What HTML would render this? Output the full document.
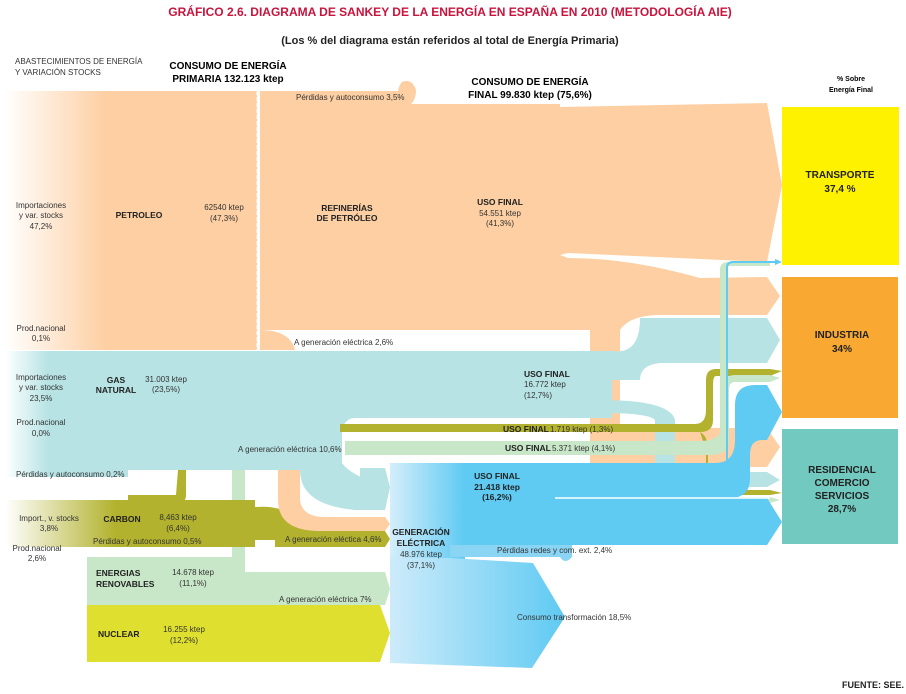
<!DOCTYPE html>
<html><head><meta charset="utf-8"><style>
body{margin:0;background:#fff}
svg{display:block;font-family:"Liberation Sans",sans-serif}
.t{font-size:8px;fill:#333}
.b{font-size:8.5px;font-weight:bold;fill:#222}
</style></head><body>
<svg width="906" height="694" viewBox="0 0 906 694">
<defs>
<linearGradient id="gp" x1="0" x2="1"><stop offset="0" stop-color="#fff"/><stop offset="0.4" stop-color="#fdcfa3"/></linearGradient>
<linearGradient id="gg" x1="0" x2="1"><stop offset="0" stop-color="#fff"/><stop offset="0.35" stop-color="#b7e3e4"/></linearGradient>
<linearGradient id="gc" x1="0" x2="1"><stop offset="0" stop-color="#fff"/><stop offset="0.9" stop-color="#b2b22e"/></linearGradient>
<linearGradient id="ge" x1="0" x2="1"><stop offset="0" stop-color="#d4eefb"/><stop offset="1" stop-color="#5fcaf2"/></linearGradient>
<linearGradient id="gt" x1="0" x2="1"><stop offset="0" stop-color="#cdebfa"/><stop offset="1" stop-color="#5fcaf2"/></linearGradient>
</defs>
<text x="450" y="16" text-anchor="middle" style="font-size:12px;font-weight:bold;fill:#c8143c">GRÁFICO 2.6.  DIAGRAMA DE SANKEY DE LA ENERGÍA EN ESPAÑA EN 2010 (METODOLOGÍA AIE)</text>
<text x="450" y="44" text-anchor="middle" style="font-size:11px;font-weight:bold;fill:#222">(Los % del diagrama están referidos al total de Energía Primaria)</text>
<text x="15" y="64" class="t">ABASTECIMIENTOS DE ENERGÍA</text>
<text x="15" y="75" class="t">Y  VARIACIÓN STOCKS</text>
<text x="228" y="69" text-anchor="middle" style="font-size:10px;font-weight:bold">CONSUMO DE ENERGÍA</text>
<text x="228" y="82" text-anchor="middle" style="font-size:10px;font-weight:bold">PRIMARIA 132.123 ktep</text>
<text x="530" y="85" text-anchor="middle" style="font-size:10px;font-weight:bold">CONSUMO DE ENERGÍA</text>
<text x="530" y="98" text-anchor="middle" style="font-size:10px;font-weight:bold">FINAL 99.830 ktep (75,6%)</text>
<text x="851" y="81" text-anchor="middle" style="font-size:7px;font-weight:bold">% Sobre</text>
<text x="851" y="92" text-anchor="middle" style="font-size:7px;font-weight:bold">Energía Final</text>

<!-- petroleum -->
<rect x="5" y="91" width="252" height="259" fill="url(#gp)"/>
<rect x="260" y="104" width="300" height="226" fill="#fdcfa3"/>
<rect x="260" y="91" width="140" height="20" fill="#fdcfa3"/>
<path d="M400 105 Q395 90 402 82 Q412 78 416 90 Q416 100 410 105 Z" fill="#fdcfa3"/>
<path d="M560 107 L767 103 L782 185 L767 262 L568 253 L560 255 Z" fill="#fdcfa3"/>
<path d="M560 255 L568 258 Q630 258 700 278 L767 277 L780 296 L767 315 L660 315 Q630 315 620 330 L620 470 L590 470 L590 330 L560 330 Z" fill="#fdcfa3"/>
<path d="M590 420 Q600 428 640 428 L767 428 L780 447 L767 467 L640 467 Q595 467 590 440 Z" fill="#fdcfa3"/>
<path d="M260 330 Q290 330 295 350 L260 350 Z" fill="#fdcfa3"/>
<line x1="258" y1="91" x2="258" y2="352" stroke="#fff" stroke-width="3" stroke-dasharray="4,2"/>
<!-- gas -->
<rect x="5" y="351" width="123" height="126" fill="url(#gg)"/>
<path d="M128 351 L612 351 L612 418 L355 418 Q345 418 342 430 L342 463 Q350 475 385 487 L390 487 L385 510 L355 510 Q300 505 300 470 L128 470 Z" fill="#b7e3e4"/>
<path d="M612 351 Q640 355 640 318 L767 318 L780 340 L767 363 L660 363 Q640 365 640 380 L612 380 Z" fill="#b7e3e4"/>
<path d="M600 400 Q670 400 675 420 L675 465 L655 465 L655 420 Q650 413 600 413 Z" fill="#b7e3e4"/>
<path d="M700 472 L767 472 L780 480 L767 487 L700 487 Z" fill="#b7e3e4"/>
<path d="M385 468 L390 487 L385 510 L360 510 L360 468 Z" fill="#b7e3e4"/>
<!-- olive line -->
<path d="M340 424 L695 424 Q706 424 706 410 L706 380 Q706 369 716 369 L770 369 L782 371 L770 376 L716 376 Q713 376 713 385 L713 420 Q713 432 700 432 L340 432 Z" fill="#b2b22e"/>
<path d="M700 432 Q708 436 708 450 L708 490 L770 490 L782 493 L770 495 L706 495 L706 450 Z" fill="#b2b22e"/>
<!-- light green -->
<path d="M345 441 L700 441 Q722 441 722 425 L722 390 Q722 375 735 375 L770 375 L780 378 L770 382 L735 382 Q729 382 729 390 L729 440 Q729 455 710 455 L345 455 Z" fill="#c8e6c8"/>
<path d="M720 445 L720 270 Q720 262 728 262 L770 262 L770 266 L728 266 L728 445 Z" fill="#c8e6c8"/>
<path d="M700 497 L770 497 L780 500 L770 503 L700 503 Z" fill="#c8e6c8"/>
<rect x="232" y="470" width="13" height="100" fill="#c8e6c8"/>
<!-- carbon -->
<rect x="5" y="500" width="123" height="47" fill="url(#gc)"/>
<rect x="128" y="500" width="127" height="47" fill="#b2b22e"/>
<path d="M178 470 L186 470 L186 495 Q186 503 178 503 L128 503 L128 495 L176 495 Z" fill="#b2b22e"/>
<path d="M255 507 Q285 505 295 520 Q300 530 320 531 L385 531 L390 539 L385 547 L275 547 L275 540 L255 540 Z" fill="#b2b22e"/>
<!-- peach to elec -->
<path d="M278 470 L300 470 L300 500 Q302 517 325 517 L385 517 L390 524 L385 531 L320 531 Q278 531 278 500 Z" fill="#fdcfa3"/>
<!-- renewables / nuclear -->
<path d="M87 557 L232 557 L232 560 Q240 565 245 560 L245 572 L385 572 L390 589 L385 605 L87 605 Z" fill="#c8e6c8"/>
<path d="M87 605 L380 605 L390 633 L380 662 L87 662 Z" fill="#dfdf2f"/>
<!-- elec -->
<path d="M390 463 L465 463 L465 663 L390 663 Z" fill="url(#ge)"/>
<path d="M465 463 L612 463 L612 498 L465 498 Z" fill="#5fcaf2"/>
<path d="M555 463 L715 463 Q735 463 735 440 L735 405 Q735 385 755 385 L767 385 L782 412 L767 440 L762 440 Q750 440 750 455 L750 478 Q750 498 730 498 L555 498 Z" fill="#5fcaf2"/>
<path d="M465 498 L767 498 L782 522 L767 545 L465 545 Z" fill="#5fcaf2"/>
<line x1="555" y1="498" x2="770" y2="498" stroke="#fff" stroke-width="1.5"/>
<path d="M727 465 L727 268 Q727 262 733 262 L775 262" stroke="#5fcaf2" stroke-width="2" fill="none"/>
<path d="M775 259 L782 262 L775 265 Z" fill="#5fcaf2"/>
<path d="M450 545 L572 545 L572 557 Q565 565 560 557 L450 557 Z" fill="#8bd5f4"/>
<path d="M450 558 L533 563 L565 617 L532 668 L390 663 L390 558 Z" fill="url(#gt)"/>
<!-- boxes -->
<rect x="782" y="107" width="117" height="158" fill="#fff200"/>
<rect x="782" y="277" width="116" height="141" fill="#f9a832"/>
<rect x="782" y="429" width="116" height="115" fill="#72c9bf"/>
<text x="840" y="178" text-anchor="middle" class="b" style="font-size:10px">TRANSPORTE</text>
<text x="840" y="192" text-anchor="middle" class="b" style="font-size:10px">37,4 %</text>
<text x="842" y="338" text-anchor="middle" class="b" style="font-size:10px">INDUSTRIA</text>
<text x="842" y="352" text-anchor="middle" class="b" style="font-size:10px">34%</text>
<text x="842" y="473" text-anchor="middle" class="b" style="font-size:10px">RESIDENCIAL</text>
<text x="842" y="486" text-anchor="middle" class="b" style="font-size:10px">COMERCIO</text>
<text x="842" y="499" text-anchor="middle" class="b" style="font-size:10px">SERVICIOS</text>
<text x="842" y="512" text-anchor="middle" class="b" style="font-size:10px">28,7%</text>
<!-- labels -->
<g class="t">
<text x="41" y="208" text-anchor="middle">Importaciones</text>
<text x="41" y="218" text-anchor="middle">y var. stocks</text>
<text x="41" y="229" text-anchor="middle">47,2%</text>
<text x="41" y="331" text-anchor="middle">Prod.nacional</text>
<text x="41" y="341" text-anchor="middle">0,1%</text>
<text x="224" y="210" text-anchor="middle">62540 ktep</text>
<text x="224" y="221" text-anchor="middle">(47,3%)</text>
<text x="296" y="100">Pérdidas y autoconsumo 3,5%</text>
<text x="294" y="345">A generación eléctrica 2,6%</text>
<text x="500" y="216" text-anchor="middle">54.551 ktep</text>
<text x="500" y="226" text-anchor="middle">(41,3%)</text>
<text x="41" y="380" text-anchor="middle">Importaciones</text>
<text x="41" y="390" text-anchor="middle">y var. stocks</text>
<text x="41" y="401" text-anchor="middle">23,5%</text>
<text x="41" y="425" text-anchor="middle">Prod.nacional</text>
<text x="41" y="436" text-anchor="middle">0,0%</text>
<text x="166" y="382" text-anchor="middle">31.003 ktep</text>
<text x="166" y="392" text-anchor="middle">(23,5%)</text>
<text x="524" y="387">16.772 ktep</text>
<text x="524" y="398">(12,7%)</text>
<text x="238" y="452">A generación eléctrica 10,6%</text>
<text x="16" y="477">Pérdidas y autoconsumo  0,2%</text>
<text x="49" y="521" text-anchor="middle">Import., v. stocks</text>
<text x="49" y="531" text-anchor="middle">3,8%</text>
<text x="37" y="551" text-anchor="middle">Prod.nacional</text>
<text x="37" y="561" text-anchor="middle">2,6%</text>
<text x="178" y="520" text-anchor="middle">8,463 ktep</text>
<text x="178" y="531" text-anchor="middle">(6,4%)</text>
<text x="93" y="544">Pérdidas y autoconsumo  0,5%</text>
<text x="285" y="542">A generación eléctica 4,6%</text>
<text x="193" y="575" text-anchor="middle">14.678 ktep</text>
<text x="193" y="586" text-anchor="middle">(11,1%)</text>
<text x="279" y="602">A generación eléctrica 7%</text>
<text x="184" y="632" text-anchor="middle">16.255 ktep</text>
<text x="184" y="643" text-anchor="middle">(12,2%)</text>
<text x="421" y="557" text-anchor="middle">48.976 ktep</text>
<text x="421" y="568" text-anchor="middle">(37,1%)</text>
<text x="497" y="553">Pérdidas redes y com. ext. 2,4%</text>
<text x="517" y="620">Consumo transformación 18,5%</text>
<text x="550" y="432">1.719 ktep (1,3%)</text>
<text x="552" y="451">5.371 ktep (4,1%)</text>
</g>
<g class="b">
<text x="139" y="218" text-anchor="middle">PETROLEO</text>
<text x="347" y="211" text-anchor="middle">REFINERÍAS</text>
<text x="347" y="221" text-anchor="middle">DE PETRÓLEO</text>
<text x="500" y="205" text-anchor="middle">USO FINAL</text>
<text x="116" y="383" text-anchor="middle">GAS</text>
<text x="116" y="393" text-anchor="middle">NATURAL</text>
<text x="524" y="377">USO FINAL</text>
<text x="503" y="432">USO FINAL</text>
<text x="505" y="451">USO FINAL</text>
<text x="497" y="479" text-anchor="middle">USO FINAL</text>
<text x="497" y="490" text-anchor="middle">21.418 ktep</text>
<text x="497" y="500" text-anchor="middle">(16,2%)</text>
<text x="122" y="522" text-anchor="middle">CARBON</text>
<text x="421" y="535" text-anchor="middle">GENERACIÓN</text>
<text x="421" y="546" text-anchor="middle">ELÉCTRICA</text>
<text x="96" y="576">ENERGIAS</text>
<text x="96" y="587">RENOVABLES</text>
<text x="98" y="637">NUCLEAR</text>
<text x="904" y="688" text-anchor="end" style="font-size:9px">FUENTE: SEE.</text>
</g>
</svg>
</body></html>
